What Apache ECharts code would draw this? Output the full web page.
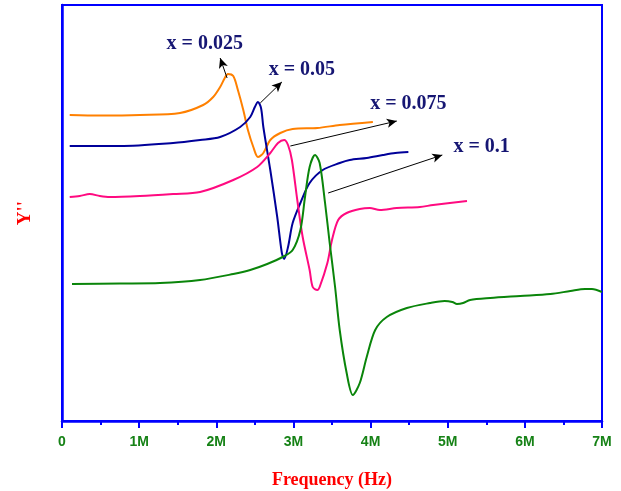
<!DOCTYPE html>
<html>
<head>
<meta charset="utf-8">
<script src="https://cdn.jsdelivr.net/npm/echarts@6/dist/echarts.min.js"></script>
<style>html,body{margin:0;padding:0;background:#fff}#c{width:621px;height:491px}</style>
</head>
<body>
<div id="c"></div>
<script>
// Frequency in MHz, Y'' in arbitrary units
var xTickLabels = ['0','1M','2M','3M','4M','5M','6M','7M'];

var freq025 = [0.10,0.49,1.01,1.53,1.83,1.96,2.05,2.11,2.15,2.22,2.28,2.35,2.41,2.48,2.54,2.61,2.70,2.83,2.99,3.31,3.60,4.03];
var y025    = [306,305.5,306,308,316,324,334,343,347,345,331,311,291,274,264,268,281,288,292,293,296,299];

var freq05 = [0.10,0.75,1.44,1.79,2.05,2.31,2.44,2.50,2.54,2.58,2.61,2.70,2.79,2.85,2.88,2.93,2.99,3.09,3.21,3.38,3.60,3.73,3.95,4.16,4.32,4.49];
var y05    = [275,275,278,281,284,294,304,314,319,313,294,251,204,168,162,174,198,218,238,251,258,261,263,266,268,269];

var freq075 = [0.10,0.23,0.36,0.49,0.62,1.01,1.44,1.79,2.22,2.53,2.70,2.80,2.88,2.93,2.98,3.05,3.12,3.21,3.25,3.31,3.34,3.44,3.50,3.58,3.69,3.86,3.99,4.12,4.34,4.64,4.81,5.25];
var y075    = [224,225,227,225,224,225,227,229,241,254,268,278,281,276,261,221,184,151,134,131,134,158,181,201,208,212,213,211,213,214,216,220];

var freq1 = [0.13,0.75,1.27,1.79,2.22,2.44,2.66,2.86,2.99,3.09,3.15,3.21,3.28,3.34,3.41,3.47,3.54,3.60,3.69,3.77,3.86,3.95,4.06,4.21,4.47,4.77,4.96,5.06,5.12,5.20,5.29,5.55,5.94,6.33,6.59,6.78,6.87,7.00];
var y1    = [137,137.5,138,141,147,151,157,164,171,191,224,254,266,258,218,178,134,91,48,26,38,64,91,104,113,118,120,119,117,118,121,123,125,127,130,132,132,129];

var seriesNames = ['x = 0.025','x = 0.05','x = 0.075','x = 0.1'];
// annotation anchors (data units): label centre, arrow start, arrow end
var labelPos  = [[1.85,377],[3.11,351],[4.49,317],[5.44,274]];
var arrowFrom = [[2.14,343],[2.57,318],[2.96,275],[3.45,228]];
var arrowTo   = [[2.05,363],[2.85,339],[4.34,300],[4.93,266]];

function zip(a,b){var r=[];for(var i=0;i<a.length;i++)r.push([a[i],b[i]]);return r;}

var colors = ['#ff8000','#000099','#ff0a80','#0a850a'];
var datas = [zip(freq025,y025), zip(freq05,y05), zip(freq075,y075), zip(freq1,y1)];

var series = datas.map(function(d,i){
  return {
    name:seriesNames[i], type:'line', data:d, smooth:0.3, symbol:'none',
    lineStyle:{color:colors[i], width:2}, z:2,
    markLine:{silent:true, symbol:['none','arrow'], symbolSize:[7,10], label:{show:false},
      lineStyle:{color:'#000', width:1, type:'solid'}, emphasis:{disabled:true},
      data:[[{coord:arrowFrom[i]},{coord:arrowTo[i]}]]}
  };
});

var chart = echarts.init(document.getElementById('c'));
chart.setOption({
  animation:false,
  grid:{left:62, right:19, top:5, bottom:70, outerBoundsMode:'none', containLabel:false,
    show:true, borderColor:'#0000ff', borderWidth:2},
  xAxis:{type:'value', min:0, max:7, interval:1,
    axisLine:{show:true, lineStyle:{color:'#0000ff', width:2.5}},
    axisTick:{show:true, length:7, lineStyle:{color:'#0000ff', width:2}},
    minorTick:{show:true, splitNumber:2, length:4, lineStyle:{color:'#0000ff', width:2}},
    splitLine:{show:false},
    axisLabel:{color:'#168216', fontFamily:'Liberation Sans', fontWeight:'bold', fontSize:14, margin:14,
      formatter:function(v){return xTickLabels[Math.round(v)];}},
    name:'Frequency (Hz)', nameLocation:'middle', nameGap:50,
    nameTextStyle:{color:'#ff0000', fontFamily:'Liberation Serif', fontWeight:'bold', fontSize:18}
  },
  yAxis:{type:'value', min:0, max:416,
    axisLine:{show:true, lineStyle:{color:'#0000ff', width:2.5}},
    axisTick:{show:false}, axisLabel:{show:false}, splitLine:{show:false},
    name:"Y''", nameLocation:'middle', nameGap:27, nameRotate:90,
    nameTextStyle:{color:'#ff0000', fontFamily:'Liberation Serif', fontWeight:'bold', fontSize:19}
  },
  series:series
});

// annotation texts placed at data coordinates
chart.setOption({
  graphic: labelPos.map(function(p,i){
    var px = chart.convertToPixel({gridIndex:0}, p);
    return {type:'text', x:px[0], y:px[1], z:100, silent:true,
      style:{text:seriesNames[i], fill:'#161673', font:'bold 20px "Liberation Serif"',
        align:'center', verticalAlign:'middle'}};
  })
});
</script>
</body>
</html>
